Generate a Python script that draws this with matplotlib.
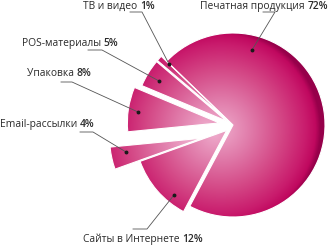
import matplotlib
matplotlib.use('Agg')
import matplotlib.pyplot as plt
import numpy as np
from matplotlib.colors import LinearSegmentedColormap

# Data
labels = ['Печатная продукция', 'ТВ и видео', 'POS-материалы', 'Упаковка',
          'Email-рассылки', 'Сайты в Интернете']
values = [72, 1, 5, 8, 4, 12]
explode = [0.0, 0.08, 0.08, 0.15, 0.36, 0.09]

# label placement in pixel coords (y from the top): text x, text baseline y,
# dot on the slice, elbow of the leader, end of the horizontal tick
text_pos = [(200, 9), (83, 9), (22, 46), (27, 76), (0, 127), (83, 242)]
dot_pos = [(252, 50), (169, 64), (159, 81), (138, 112), (126, 152), (174, 195)]
elbow_pos = [(275, 12), (142, 12), (102, 50), (72, 82), (93, 132), (147, 229)]
tick_end = [(263, 12), (130, 12), (88, 50), (61, 82), (80, 132), (133, 229)]

W, H = 330, 246
plt.rcParams['font.family'] = ['Open Sans', 'DejaVu Sans']

fig = plt.figure(figsize=(W / 100, H / 100), dpi=100)
ax = fig.add_axes([0, 0, 1, 1])

cx, cy, R = 233, H - 125, 92
# pie() takes the explode offset in data units, so scale by the radius
wedges, _ = ax.pie(values, explode=[e * R for e in explode], startangle=-118,
                   radius=R, center=(cx, cy), frame=True,
                   wedgeprops=dict(facecolor='none', edgecolor='white', linewidth=0.8))

# the email slice sits a little lower in the original
ex0, ey0 = wedges[4].center
wedges[4].set_center((ex0 + 1, ey0 - 6))

cmap = LinearSegmentedColormap.from_list(
    'mag', [(0.0, '#eeaacb'), (0.3, '#e07aa9'), (0.6, '#d44886'),
            (0.85, '#c91c6d'), (0.95, '#c0085f'), (1.0, '#96004a')])

for w in wedges:
    wx, wy = w.center
    r = w.r
    n = 300
    xs = np.linspace(wx - r, wx + r, n)
    ys = np.linspace(wy - r, wy + r, n)
    X, Y = np.meshgrid(xs, ys)
    d = np.clip(np.hypot(X - (wx - 12), Y - (wy - 4)) / (r + 8), 0, 1)
    im = ax.imshow(d, cmap=cmap, vmin=0, vmax=1, origin='lower',
                   extent=(wx - r, wx + r, wy - r, wy + r), zorder=1,
                   interpolation='bilinear')
    im.set_clip_path(w)
    w.set_zorder(2)

ax.set_xlim(0, W)
ax.set_ylim(0, H)
ax.set_aspect('auto')
ax.axis('off')

fig.canvas.draw()
renderer = fig.canvas.get_renderer()
inv = ax.transData.inverted()

for i, name in enumerate(labels):
    tx, ty = text_pos[i]
    t = ax.text(tx, H - ty, name + ' ', fontsize=7.4, color='#2a2a2a',
                ha='left', va='baseline', zorder=5)
    bb = t.get_window_extent(renderer)
    x_end = inv.transform((bb.x1, bb.y0))[0]
    ax.text(x_end, H - ty, f'{values[i]}%', fontsize=7.4, fontweight='semibold',
            color='#2a2a2a', ha='left', va='baseline', zorder=5)

    dx, dy = dot_pos[i]
    ex, ey = elbow_pos[i]
    kx, ky = tick_end[i]
    ax.plot([dx, ex, kx], [H - dy, H - ey, H - ky], color='#555555',
            lw=0.6, zorder=4)
    ax.plot(dx, H - dy, 'o', color='#1a1a1a', ms=1.8, zorder=4)

fig.savefig('out.png', dpi=100)
